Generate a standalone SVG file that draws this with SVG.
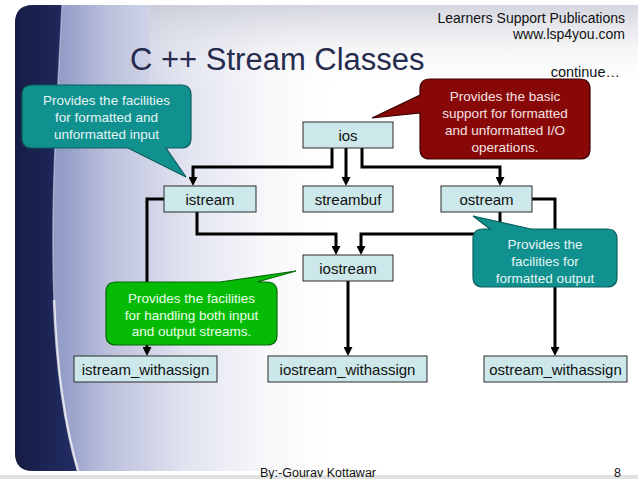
<svg xmlns="http://www.w3.org/2000/svg" width="638" height="479" viewBox="0 0 638 479">
  <defs>
    <linearGradient id="bgH" x1="15" y1="0" x2="330" y2="0" gradientUnits="userSpaceOnUse">
      <stop offset="0" stop-color="#8e97c4"/>
      <stop offset="0.15" stop-color="#949dc8"/>
      <stop offset="0.3" stop-color="#bcc1dc"/>
      <stop offset="0.55" stop-color="#e2e4f0"/>
      <stop offset="0.8" stop-color="#f8f8fb"/>
      <stop offset="1" stop-color="#ffffff"/>
    </linearGradient>
    <linearGradient id="bgTop" x1="0" y1="5" x2="0" y2="90" gradientUnits="userSpaceOnUse">
      <stop offset="0" stop-color="#c9cbd6" stop-opacity="0.8"/>
      <stop offset="1" stop-color="#ffffff" stop-opacity="0"/>
    </linearGradient>
    <linearGradient id="dark" x1="15" y1="0" x2="75" y2="0" gradientUnits="userSpaceOnUse">
      <stop offset="0" stop-color="#161c44"/>
      <stop offset="1" stop-color="#222c62"/>
    </linearGradient>
    <marker id="arr" viewBox="0 0 10 10" markerUnits="userSpaceOnUse" markerWidth="9" markerHeight="9" refX="2" refY="5" orient="auto">
      <path d="M0,0 L10,5 L0,10 z" fill="#000"/>
    </marker>
    <style>
      .node rect { fill: #cde8ea; stroke: #2a2a2a; stroke-width: 1; }
      .node text { font-family: "Liberation Sans", Arial, sans-serif; font-size: 15px; fill: #111; text-anchor: middle; }
      .conn path { fill: none; stroke: #000; stroke-width: 3; marker-end: url(#arr); }
      .call text { font-family: "Liberation Sans", Arial, sans-serif; font-size: 13.5px; text-anchor: middle; }
      .teal path { fill: #10918f; stroke: #0b5e5d; stroke-width: 1.2; }
      .teal text { fill: #e6f5f5; }
      .red path { fill: #880808; stroke: #3c0000; stroke-width: 1.2; }
      .red text { fill: #f6e2e2; }
      .green path { fill: #06bb06; stroke: #066806; stroke-width: 1.2; }
      .green text { fill: #eaffea; }
      .hdr { font-family: "Liberation Sans", Arial, sans-serif; fill: #111; }
    </style>
  </defs>

  <!-- background -->
  <rect x="0" y="0" width="638" height="479" fill="#ffffff"/>
  <g id="background">
    <rect x="15" y="5" width="700" height="466" rx="18" fill="url(#bgH)"/>
    <rect x="150" y="5" width="488" height="90" fill="url(#bgTop)"/>
    <path d="M33,5 H62 C58,90 50,200 54,300 C57,380 66,430 78,471 H33 Q15,471 15,453 V23 Q15,5 33,5 Z" fill="url(#dark)"/>
    <path d="M54,300 C57,380 66,430 78,471" fill="none" stroke="#ffffff" stroke-opacity="0.75" stroke-width="2.5"/>
    <path d="M62,5 C58,90 50,200 54,300" fill="none" stroke="#c8cde6" stroke-opacity="0.6" stroke-width="1.5"/>
    <rect x="0" y="475" width="638" height="4" fill="#e2e2e2"/>
  </g>

  <!-- header texts -->
  <text class="hdr" x="130" y="70" font-size="31" style="fill:#262c4e">C ++ Stream Classes</text>
  <text class="hdr" x="625" y="22.5" font-size="14" text-anchor="end">Learners Support Publications</text>
  <text class="hdr" x="625" y="38.5" font-size="14" text-anchor="end">www.lsp4you.com</text>
  <text class="hdr" x="620" y="76.5" font-size="14.5" text-anchor="end">continue…</text>
  <text class="hdr" x="260" y="477" font-size="12.5">By:-Gourav Kottawar</text>
  <text class="hdr" x="621" y="477" font-size="12.5" text-anchor="end">8</text>

  <!-- connectors -->
  <g id="connectors" class="conn">
    <path d="M332,148 V167 H193 V178.8"/>
    <path d="M346,148 V178.8"/>
    <path d="M362,148 V167 H500 V178.8"/>
    <path d="M197,212 V234 H336 V247.8"/>
    <path d="M500,212 V234 H361 V247.8"/>
    <path d="M164,199 H147 V348.8"/>
    <path d="M532,199 H555 V348.8"/>
    <path d="M348,281 V348.8"/>
  </g>

  <!-- nodes -->
  <g id="ios" class="node"><rect x="303" y="122" width="90" height="26"/><text x="348" y="141">ios</text></g>
  <g id="istream" class="node"><rect x="164" y="186" width="92" height="26"/><text x="210" y="205">istream</text></g>
  <g id="streambuf" class="node"><rect x="303" y="186" width="90" height="26"/><text x="348" y="205">streambuf</text></g>
  <g id="ostream" class="node"><rect x="441" y="186" width="91" height="26"/><text x="486.5" y="205">ostream</text></g>
  <g id="iostream" class="node"><rect x="303" y="255" width="90" height="26"/><text x="348" y="274">iostream</text></g>
  <g id="istream_withassign" class="node"><rect x="74" y="356" width="143" height="26"/><text x="145.5" y="375">istream_withassign</text></g>
  <g id="iostream_withassign" class="node"><rect x="268" y="356" width="159" height="26"/><text x="347.5" y="375">iostream_withassign</text></g>
  <g id="ostream_withassign" class="node"><rect x="484" y="356" width="143" height="26"/><text x="555.5" y="375">ostream_withassign</text></g>

  <!-- callouts -->
  <g id="callout-input" class="call teal">
    <path d="M32,85 H181 Q191,85 191,95 V138 Q191,148 181,148 H166 L186,177 L128,148 H32 Q22,148 22,138 V95 Q22,85 32,85 Z"/>
    <text x="106.5" y="105">Provides the facilities</text>
    <text x="106.5" y="122">for formatted and</text>
    <text x="106.5" y="139">unformatted input</text>
  </g>
  <g id="callout-ios" class="call red">
    <path d="M430,79 H580 Q590,79 590,89 V149 Q590,159 580,159 H430 Q420,159 420,149 V113 L372,118 L420,95 V89 Q420,79 430,79 Z"/>
    <text x="505" y="101">Provides the basic</text>
    <text x="505" y="118">support for formatted</text>
    <text x="505" y="135">and unformatted I/O</text>
    <text x="505" y="152">operations.</text>
  </g>
  <g id="callout-output" class="call teal">
    <path d="M483,229 H490 L473,216 L531,229 H607 Q617,229 617,239 V277 Q617,287 607,287 H483 Q473,287 473,277 V239 Q473,229 483,229 Z"/>
    <text x="545" y="249">Provides the</text>
    <text x="545" y="266">facilities for</text>
    <text x="545" y="283">formatted output</text>
  </g>
  <g id="callout-iostream" class="call green">
    <path d="M116,282 H220 L296,271 L257,282 H267 Q277,282 277,292 V335 Q277,345 267,345 H116 Q106,345 106,335 V292 Q106,282 116,282 Z"/>
    <text x="191.5" y="303">Provides the facilities</text>
    <text x="191.5" y="319.5">for handling both input</text>
    <text x="191.5" y="336">and output streams.</text>
  </g>
</svg>
